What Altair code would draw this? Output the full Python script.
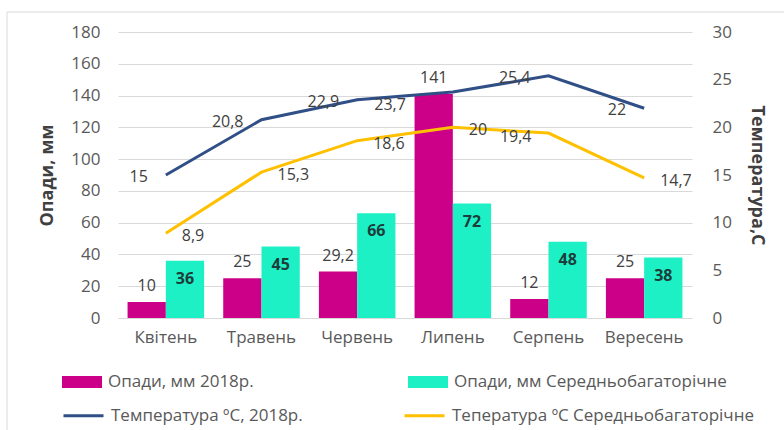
import altair as alt
import pandas as pd
import json

months = ["Квітень", "Травень", "Червень", "Липень", "Серпень", "Вересень"]
precip_2018 = [10, 25, 29.2, 141, 12, 25]
precip_avg = [36, 45, 66, 72, 48, 38]
temp_2018 = [15, 20.8, 22.9, 23.7, 25.4, 22]
temp_avg = [8.9, 15.3, 18.6, 20, 19.4, 14.7]

bar_names = ["Опади, мм 2018р.", "Опади, мм Середньобагаторічне"]
line_names = ["Температура ºС, 2018р.", "Тепература ºС Середньобагаторічне"]

MAGENTA = "#CC0088"
CYAN = "#1CF0C4"
NAVY = "#2F4F86"
YELLOW = "#FFC000"
FONT = "Open Sans"
TICK_FS = 17
LEG_FS = 17
LAB_FS = 16


def fmt(v):
    return (f"{v:g}").replace(".", ",")


rows = []
for m, a, b in zip(months, precip_2018, precip_avg):
    rows.append({"month": m, "series": bar_names[0], "value": a, "label": fmt(a)})
    rows.append({"month": m, "series": bar_names[1], "value": b, "label": fmt(b)})
bars_df = pd.DataFrame(rows)

rows = []
for m, a, b in zip(months, temp_2018, temp_avg):
    rows.append({"month": m, "series": line_names[0], "value": a, "label": fmt(a)})
    rows.append({"month": m, "series": line_names[1], "value": b, "label": fmt(b)})
lines_df = pd.DataFrame(rows)

x_enc = alt.X(
    "month:N",
    sort=months,
    title=None,
    scale=alt.Scale(paddingInner=0.2, paddingOuter=0.1),
    axis=alt.Axis(labelAngle=0, labelFontSize=TICK_FS, labelColor="#595959", labelPadding=11,
                  ticks=False, domain=True, domainColor="#d9d9d9", labelFont=FONT, grid=False),
)
xoff = alt.XOffset("series:N", sort=bar_names, scale=alt.Scale(paddingInner=0, paddingOuter=0))

y_left = alt.Y(
    "value:Q",
    scale=alt.Scale(domain=[0, 180], nice=False),
    axis=alt.Axis(values=list(range(0, 181, 20)), title="Опади, мм", titleFontSize=18,
                  titleFontWeight="bold", titleColor="#404040", titlePadding=14,
                  labelFontSize=TICK_FS, labelColor="#595959", labelPadding=18,
                  labelOverlap=False, ticks=False, domain=False, grid=True, gridColor="#d9d9d9",
                  labelFont=FONT, titleFont=FONT),
)
y_right = alt.Y(
    "value:Q",
    scale=alt.Scale(domain=[0, 30], nice=False),
    axis=alt.Axis(values=list(range(0, 31, 5)), orient="right", title="Температура,С",
                  titleFontSize=18, titleFontWeight="bold", titleColor="#404040",
                  titlePadding=16, labelFontSize=TICK_FS, labelColor="#595959", labelPadding=20,
                  labelOverlap=False, ticks=False, domain=False, grid=False,
                  labelFont=FONT, titleFont=FONT),
)

base_b = alt.Chart(bars_df)
bars = base_b.mark_bar().encode(
    x=x_enc,
    xOffset=xoff,
    y=y_left,
    fill=alt.Fill(
        "series:N",
        sort=bar_names,
        scale=alt.Scale(domain=bar_names, range=[MAGENTA, CYAN]),
        legend=alt.Legend(title=None, orient="none", legendX=-46, legendY=340,
                          direction="horizontal", symbolType="M-2,-0.6L2,-0.6L2,0.6L-2,0.6Z",
                          symbolSize=400, symbolStrokeWidth=0, labelFontSize=LEG_FS,
                          labelColor="#595959", labelFont=FONT, labelOffset=16,
                          columnPadding=154, labelLimit=400),
    ),
)
bar_lab_a = base_b.mark_text(baseline="bottom", dy=-8, fontSize=LAB_FS, color="#404040", font=FONT).encode(
    x=x_enc, xOffset=xoff, y=y_left, text="label:N"
).transform_filter(alt.datum.series == bar_names[0])
bar_lab_b = base_b.mark_text(baseline="top", dy=10, fontSize=LAB_FS, fontWeight="bold",
                             color="#1E3C3C", font=FONT).encode(
    x=x_enc, xOffset=xoff, y=y_left, text="label:N"
).transform_filter(alt.datum.series == bar_names[1])

# outer chart frame (top and left edges are the ones inside the window)
one = pd.DataFrame({"a": [0]})
frame_top = alt.Chart(one).mark_rule(stroke="#d9d9d9", strokeWidth=1).encode(
    x=alt.value(-111), x2=alt.value(700), y=alt.value(-20)
)
frame_left = alt.Chart(one).mark_rule(stroke="#d9d9d9", strokeWidth=1).encode(
    x=alt.value(-111), y=alt.value(-20), y2=alt.value(420)
)

left = alt.layer(frame_top, frame_left, bars, bar_lab_a, bar_lab_b)

base_l = alt.Chart(lines_df)
lines = base_l.mark_line(strokeWidth=3).encode(
    x=x_enc,
    y=y_right,
    stroke=alt.Stroke(
        "series:N",
        sort=line_names,
        scale=alt.Scale(domain=line_names, range=[NAVY, YELLOW]),
        legend=alt.Legend(title=None, orient="none", legendX=-46, legendY=372,
                          direction="horizontal", symbolType="M-2,0L2,0",
                          symbolSize=400, symbolStrokeWidth=3, labelFontSize=LEG_FS,
                          labelColor="#595959", labelFont=FONT, labelOffset=16,
                          columnPadding=95, labelLimit=400),
    ),
)


def tlab(series, months_sel, align, dx, dy):
    expr = f"datum.series == {json.dumps(series)} && indexof({json.dumps(months_sel)}, datum.month) >= 0"
    return base_l.mark_text(align=align, baseline="middle", dx=dx, dy=dy, fontSize=LAB_FS,
                            color="#404040", font=FONT).encode(
        x=x_enc, y=y_right, text="label:N"
    ).transform_filter(expr)


blue_main = tlab(line_names[0], [m for m in months if m != "Липень"], "right", -18, 2)
blue_jul = tlab(line_names[0], ["Липень"], "right", -47, 13)
yel_main = tlab(line_names[1], [m for m in months if m != "Серпень"], "left", 16, 3)
yel_aug = tlab(line_names[1], ["Серпень"], "right", -17, 4)

right = alt.layer(lines, blue_main, blue_jul, yel_main, yel_aug)

chart = alt.layer(left, right).resolve_scale(y="independent", fill="independent", stroke="independent").properties(
    width=574,
    height=286,
    autosize=alt.AutoSizeParams(type="none"),
    padding={"left": 118, "top": 32, "right": 92, "bottom": 112},
).configure(
    font=FONT,
    background="white",
    view=alt.ViewConfig(stroke="transparent", strokeWidth=0),
    axisY=alt.AxisConfig(domain=False, domainWidth=0),
    style={"cell": {"stroke": "transparent", "strokeWidth": 0}},
)

chart.save("out.html", embed_options={"renderer": "svg", "actions": False})
